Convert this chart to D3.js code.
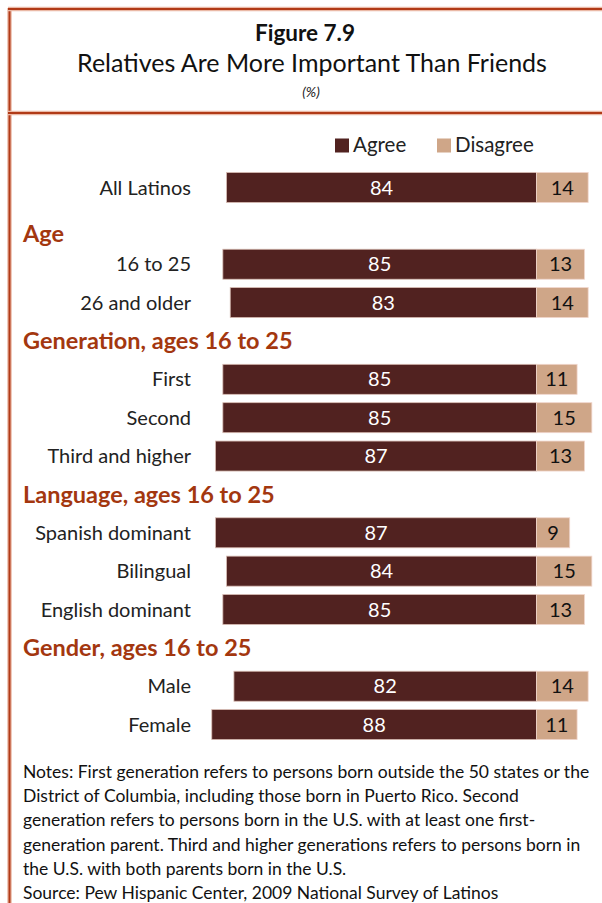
<!DOCTYPE html>
<html>
<head>
<meta charset="utf-8">
<script src="https://cdn.jsdelivr.net/npm/d3@7"></script>
<style>
  body { margin: 0; background: #fff; }
  svg { display: block; font-family: Lato, "Open Sans", sans-serif; }
</style>
</head>
<body>
<div id="chart"></div>
<script>
// DATA
const categories = ["All Latinos", "16 to 25", "26 and older", "First", "Second", "Third and higher",
  "Spanish dominant", "Bilingual", "English dominant", "Male", "Female"]
const groups = ["", "Age", "Age", "Generation, ages 16 to 25", "Generation, ages 16 to 25", "Generation, ages 16 to 25",
  "Language, ages 16 to 25", "Language, ages 16 to 25", "Language, ages 16 to 25",
  "Gender, ages 16 to 25", "Gender, ages 16 to 25"]
const agree = [84, 85, 83, 85, 85, 87, 87, 84, 85, 82, 88]
const disagree = [14, 13, 14, 11, 15, 13, 9, 15, 13, 14, 11]
const legendData = ["Agree", "Disagree"]
const notes = [
  "Notes: First generation refers to persons born outside the 50 states or the",
  "District of Columbia, including those born in Puerto Rico. Second",
  "generation refers to persons born in the U.S. with at least one first-",
  "generation parent. Third and higher generations refers to persons born in",
  "the U.S. with both parents born in the U.S.",
  "Source: Pew Hispanic Center, 2009 National Survey of Latinos"
]

const width = 602, height = 903
const split = 536.5   // where agree ends and disagree begins

const color = d3.scaleOrdinal().domain(legendData).range(["#512220", "#cfa688"])

// rows = headings + bars, in drawing order
const rows = []
categories.forEach((c, i) => {
  if (groups[i] !== "" && groups[i] !== groups[i - 1]) rows.push({ type: "head", label: groups[i] })
  rows.push({ type: "bar", label: c, agree: agree[i], disagree: disagree[i] })
})

const svg = d3.select("#chart").append("svg")
  .attr("width", width)
  .attr("height", height)

// FRAME
const frame = svg.append("g")
function rule(x1, y1, x2, y2) {
  frame.append("line").attr("x1", x1).attr("y1", y1).attr("x2", x2).attr("y2", y2)
    .attr("stroke", "#eab9a6").attr("stroke-width", 4.5)
  frame.append("line").attr("x1", x1).attr("y1", y1).attr("x2", x2).attr("y2", y2)
    .attr("stroke", "#b13a17").attr("stroke-width", 2)
}
rule(9.5, 8, 9.5, height)
rule(8, 9, width, 9)
rule(8, 113, width, 113)

// TITLES
svg.append("text").attr("x", 305).attr("y", 41).attr("text-anchor", "middle")
  .attr("font-size", 22.5).attr("font-weight", "bold").attr("fill", "#111").text("Figure 7.9")
svg.append("text").attr("x", 312).attr("y", 72).attr("text-anchor", "middle")
  .attr("font-size", 25).attr("fill", "#111").text("Relatives Are More Important Than Friends")
svg.append("text").attr("x", 311).attr("y", 97).attr("text-anchor", "middle")
  .attr("font-size", 14).attr("font-style", "italic").attr("fill", "#222").text("(%)")

// LEGEND
const legendX = [335, 437]
legendData.forEach((d, i) => {
  svg.append("rect").attr("x", legendX[i]).attr("y", 138.5).attr("width", 14).attr("height", 14)
    .attr("fill", color(d))
  svg.append("text").attr("x", legendX[i] + 18).attr("y", 152)
    .attr("font-size", 20.5).attr("fill", "#222").text(d)
})

// SCALES
const y = d3.scalePoint().domain(d3.range(rows.length)).range([187.5, 724.6])
const x = d3.scaleLinear().domain([0, 100]).range([0, 369])
const barH = 30

// HEADINGS
let headCount = 0
rows.forEach((r, i) => {
  if (r.type !== "head") return
  // first heading sits a bit lower in its slot
  const off = headCount === 0 ? 16 : 8.5
  headCount++
  svg.append("text").attr("x", 23).attr("y", y(i) + off)
    .attr("font-size", 23.5).attr("font-weight", "bold").attr("fill", "#a3370f").text(r.label)
})

// BARS
const barRows = rows.map((r, i) => Object.assign({ i: i }, r)).filter(r => r.type === "bar")
const g = svg.append("g")

g.selectAll(".lab").data(barRows).join("text")
  .attr("x", 191).attr("y", d => y(d.i) + 7)
  .attr("text-anchor", "end").attr("font-size", 20).attr("fill", "#222")
  .text(d => d.label)

g.selectAll(".agree").data(barRows).join("rect")
  .attr("x", d => split - x(d.agree)).attr("y", d => y(d.i) - barH / 2)
  .attr("width", d => x(d.agree)).attr("height", barH)
  .attr("fill", color("Agree")).attr("stroke", "#d8bcb3").attr("stroke-width", 0.8)

g.selectAll(".disagree").data(barRows).join("rect")
  .attr("x", split).attr("y", d => y(d.i) - barH / 2)
  .attr("width", d => x(d.disagree)).attr("height", barH)
  .attr("fill", color("Disagree")).attr("stroke", "#f0d6cc").attr("stroke-width", 0.8)

g.selectAll(".va").data(barRows).join("text")
  .attr("x", d => split - x(d.agree) / 2).attr("y", d => y(d.i) + 7)
  .attr("text-anchor", "middle").attr("font-size", 20).attr("fill", "#fff")
  .text(d => d.agree)

g.selectAll(".vd").data(barRows).join("text")
  .attr("x", d => split + x(d.disagree) / 2).attr("y", d => y(d.i) + 7)
  .attr("text-anchor", "middle").attr("font-size", 20).attr("fill", "#111")
  .text(d => d.disagree)

// NOTES
svg.append("g").selectAll("text").data(notes).join("text")
  .attr("x", 23).attr("y", (d, i) => 778 + i * 24.2)
  .attr("font-size", 17.5).attr("fill", "#111")
  .text(d => d)
</script>
</body>
</html>
